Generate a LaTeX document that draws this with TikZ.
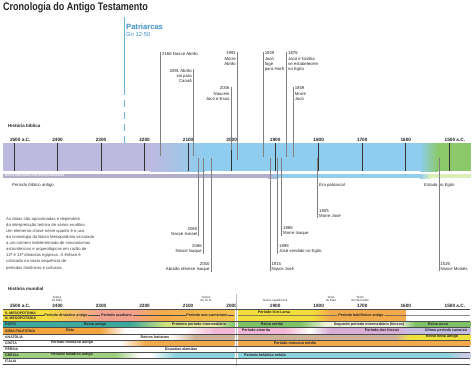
\documentclass[tikz,border=0pt]{standalone}
\usepackage{fontspec}
\setmainfont{Liberation Sans}
\usetikzlibrary{positioning}

\definecolor{patblue}{HTML}{3D8FC6}
\definecolor{patline}{HTML}{6AAFD0}
\definecolor{lav}{HTML}{BCBADF}
\definecolor{skyb}{HTML}{8ECDEE}
\definecolor{leaf}{HTML}{8CC96A}
\definecolor{stripgray}{HTML}{B4AECB}
\definecolor{stripblue}{HTML}{93CDEA}
\definecolor{striplt}{HTML}{DCEEB8}
\definecolor{ylw}{HTML}{F4DE3E}
\definecolor{salm}{HTML}{F2A08E}
\definecolor{orng}{HTML}{F2AA4A}
\definecolor{ylor}{HTML}{F5C24C}
\definecolor{teal}{HTML}{3DA89C}
\definecolor{ygrn}{HTML}{CFE27C}
\definecolor{pale}{HTML}{EAEFA8}
\definecolor{grn}{HTML}{7DC267}
\definecolor{palew}{HTML}{EEF2D8}
\definecolor{org2}{HTML}{F2A33E}
\definecolor{pink}{HTML}{F3B8D6}
\definecolor{lavp}{HTML}{D8AED6}
\definecolor{lavb}{HTML}{C6BFE3}
\definecolor{brwn}{HTML}{CDB29A}
\definecolor{hyel}{HTML}{F0E23E}
\definecolor{crorg}{HTML}{F2AB4C}
\definecolor{grgr}{HTML}{9DD07E}
\definecolor{cyan}{HTML}{8BD3DC}
\definecolor{lgray}{HTML}{C8CCE6}

% posicao de um ano na escala
\newcommand\yx[1]{14+(2500-#1)*0.4353}

\tikzset{
  title/.style={font=\bfseries\fontsize{11}{12}\selectfont, inner sep=0pt, anchor=north west, text=black!85},
  evline/.style={black!50, line width=0.45pt},
  tick/.style={black!80, line width=0.8pt},
  sep/.style={black!70, line width=0.5pt},
  evlab/.style={font=\fontsize{4.3}{5.2}\selectfont, inner sep=0pt, text=black!85},
  yearlab/.style={font=\bfseries\fontsize{4.7}{5}\selectfont, inner sep=0pt, anchor=base, text=black!85},
  seclab/.style={font=\bfseries\fontsize{4.5}{5}\selectfont, inner sep=0pt, anchor=base west, text=black!85},
  eralab/.style={font=\itshape\fontsize{4.3}{5}\selectfont, inner sep=0pt, anchor=base west, text=black!85},
  rowlab/.style={font=\bfseries\fontsize{3.5}{4}\selectfont, inner sep=0pt, anchor=west, text=black!85},
  perlab/.style={font=\bfseries\fontsize{3.7}{4}\selectfont, inner sep=0.6pt, text=black!85},
  toplab/.style={font=\fontsize{3}{3.4}\selectfont, inner sep=0pt, align=center, anchor=south, text=black!80},
  note/.style={font=\fontsize{4.2}{6.1}\selectfont, inner sep=0pt, align=left, anchor=north west, text=black!75},
}

\begin{document}
\begin{tikzpicture}[x=1pt,y=-1pt]
\useasboundingbox (0,0) rectangle (474,369);
\fill[white] (0,0) rectangle (474,369);

\node[title] (tit) at (3,2.8) {\scalebox{0.82}[1]{Cronologia do Antigo Testamento}};

% Patriarcas
\coordinate (pt) at (124,17);
\coordinate (pm) at (124,88);
\coordinate (pb) at (124,166);
\draw[patline, line width=0.9pt] (pt) -- (pm);
\draw[patline, line width=0.9pt, dash pattern=on 7pt off 5pt] (pm) -- (pb);
\node[font=\bfseries\fontsize{7.6}{8}\selectfont, text=patblue, inner sep=0pt, anchor=north west] (patr) at (126,23.5) {Patriarcas};
\node[font=\fontsize{5.8}{6}\selectfont, text=patblue, inner sep=0pt, anchor=north west] (gn) at (126,32.3) {Gn 12-50};

% historia biblica
\node[seclab] (hb) at (8,127.5) {História bíblica};

\fill[lav] (3,143) rectangle (150,171);
\shade[left color=lav, right color=skyb] (149.8,143) rectangle (205,171);
\fill[skyb] (204.8,143) rectangle (420,171);
\shade[left color=skyb, right color=leaf] (419.8,143) rectangle (438,171);
\fill[leaf] (437.8,143) rectangle (471,171);

\fill[stripgray] (3,174) rectangle (268,178);
\shade[left color=stripgray, right color=stripblue] (267.8,174) rectangle (278,178);
\fill[stripblue] (277.8,174) rectangle (420,178);
\shade[left color=stripblue, right color=striplt] (419.8,174) rectangle (430,178);
\fill[striplt] (429.8,174) rectangle (471,178);
\node[font=\bfseries\fontsize{2.8}{3}\selectfont, text=white, inner sep=0pt, anchor=west] (datas) at (5,176) {DATAS ADOTADAS POR MUITOS ERUDITOS};

\foreach \y in {2500,2400,...,1500}
  \draw[tick] ({\yx{\y}},143) -- ({\yx{\y}},171);
\foreach \y in {2400,2300,...,1600}
  \node[yearlab] (m\y) at ({\yx{\y}},141.8) {\y};
\node[yearlab, anchor=base west] (m2500) at (9.8,141.8) {2500 a.C.};
\node[yearlab, anchor=base west] (m1500) at (444.5,141.8) {1500 a.C.};

\node[eralab] (era1) at (12,186.5) {Período bíblico antigo};
\node[eralab] (era2) at (319,186.5) {Era patriarcal};
\node[eralab] (era3) at (424,186.5) {Estada no Egito};

% eventos acima da barra
\foreach \n/\x/\t/\b/\txt in {2166/160.7/51.7/156/{2166 Nasce Abrão},
    1929/263.3/51.7/157/{1929\\Jacó\\foge\\para Harã},
    1876/286.7/51.7/157/{1876\\Jacó e família\\se estabelecem\\no Egito},
    1859/293.3/86.7/157/{1859\\Morre\\Jacó}}{
  \coordinate (t\n) at (\x,\t);
  \coordinate (b\n) at (\x,\b);
  \draw[evline] (t\n) -- (b\n);
  \node[evlab, align=left, anchor=north west, xshift=1.3pt] (l\n) at (t\n) {\txt};
}
\foreach \n/\x/\t/\b/\txt in {2091/193.3/69.2/156/{2091 Abrão\\vai para\\Canaã},
    2006/231/86.7/150/{2006\\Nascem\\Jacó e Esaú},
    1991/237.3/51.7/160/{1991\\Morre\\Abrão}}{
  \coordinate (t\n) at (\x,\t);
  \coordinate (b\n) at (\x,\b);
  \draw[evline] (t\n) -- (b\n);
  \node[evlab, align=right, anchor=north east, xshift=-1.3pt] (l\n) at (t\n) {\txt};
}

% eventos abaixo da barra
\foreach \n/\x/\b/\txt in {1915/270/271/{1915\\Nasce José},
    1898/277.7/254/{1898\\José vendido no Egito},
    1886/281.7/236/{1886\\Morre Isaque},
    1805/317.7/218/{1805\\Morre José},
    1526/439/271/{1526\\Nasce Moisés}}{
  \coordinate (t\n) at (\x,158);
  \coordinate (b\n) at (\x,\b);
  \draw[evline] (t\n) -- (b\n);
  \node[evlab, align=left, anchor=south west, xshift=1.3pt] (l\n) at (b\n) {\txt};
}
\foreach \n/\x/\b/\txt in {2080/198.7/236/{2080\\Nasce Ismael},
    2066/203.3/254/{2066\\Nasce Isaque},
    2050/211/272/{2050\\Abraão oferece Isaque}}{
  \coordinate (t\n) at (\x,158);
  \coordinate (b\n) at (\x,\b);
  \draw[evline] (t\n) -- (b\n);
  \node[evlab, align=right, anchor=south east, xshift=-1.3pt] (l\n) at (b\n) {\txt};
}

\node[note] (nota) at (6,217) {As datas são aproximadas e dependem\\
da interpretação teórica de vários eruditos.\\
Um elemento-chave neste quadro é o uso\\
da cronologia da Baixa Mesopotâmia vinculado\\
a um número indeterminado de sincronismos\\
astronômicos e arqueológicos em razão de\\
12ª e 13ª dinastias egípcias. A ênfase é\\
colocada na vasta sequência de\\
períodos históricos e culturais.};

% historia mundial
\node[seclab] (hm) at (8,290.5) {História mundial};

\node[toplab] (ebla) at (57,302) {Textos\\de Ebla};
\node[toplab] (ur) at (206,302) {Textos\\de Ur III};
\node[toplab] (capa) at (275,302) {Textos capadócios};
\node[toplab] (mari) at (331,302) {Texto\\de Mari};
\node[toplab] (hamu) at (360,302) {Texto\\de Hamurábi};

\foreach \y in {2400,2300,...,1600}
  \node[yearlab] (w\y) at ({\yx{\y}},307.8) {\y};
\node[yearlab, anchor=base west] (w2500) at (9.8,307.8) {2500 a.C.};
\node[yearlab, anchor=base west] (w1500) at (444.5,307.8) {1500 a.C.};

% faixas
\foreach \a/\b/\c/\d in {3/45/ylw/ylw,45/100/ylw/salm,100/130/salm/salm,130/160/salm/orng,160/234/orng/ylor,238/312/ylw/ylw,312/330/ylw/orng,330/405/orng/orng}
  \shade[left color=\c, right color=\d] (\a,309.5) rectangle (\b+0.3,321.2);
\foreach \a/\b/\c/\d in {3/130/teal/teal,130/165/teal/ygrn,165/215/ygrn/pale,215/234/pale/grn,238/300/grn/grn,300/325/grn/palew,325/400/palew/palew,400/415/palew/grn,415/470/grn/grn}
  \shade[left color=\c, right color=\d] (\a,321.8) rectangle (\b+0.3,327.2);
\foreach \a/\b/\c/\d in {3/100/org2/org2,100/125/org2/white,185/215/white/pink,215/234/pink/pink,238/285/pink/pink,285/310/pink/white,310/330/white/lavp,330/398/lavp/lavp,398/410/lavp/lavb,410/470/lavb/lavb}
  \shade[left color=\c, right color=\d] (\a,327.8) rectangle (\b+0.3,333.5);
\foreach \a/\b/\c/\d in {170/195/white/brwn,195/234/brwn/brwn,238/395/brwn/brwn,395/410/brwn/hyel,410/470/hyel/hyel}
  \shade[left color=\c, right color=\d] (\a,334.1) rectangle (\b+0.3,339.7);
\foreach \a/\b/\c/\d in {120/145/white/crorg,145/234/crorg/crorg,238/470/crorg/crorg}
  \shade[left color=\c, right color=\d] (\a,340.3) rectangle (\b+0.3,345.7);
\foreach \a/\b/\c/\d in {3/115/grgr/grgr,115/140/grgr/white,150/175/white/cyan,175/234/cyan/cyan,238/448/cyan/cyan,448/462/cyan/lgray,462/470/lgray/lgray}
  \shade[left color=\c, right color=\d] (\a,352.3) rectangle (\b+0.3,357.7);

\draw[black!25, line width=0.4pt] (236,294) -- (236,366);
\foreach \y in {309.3,321.5,327.5,333.8,340,346,352,358,364}
  \draw[sep] (3,\y) -- (470,\y);

% regioes
\foreach \n/\y/\txt in {s/312.5/S. MESOPOTÂMIA, n/318.4/N. MESOPOTÂMIA, eg/324.5/EGITO,
    sp/330.6/SÍRIA-PALESTINA, an/336.9/ANATÓLIA, cr/343/CRETA, pe/349/PÉRSIA,
    gr/355/GRÉCIA, it/361/ITÁLIA}
  \node[rowlab] (r\n) at (5,\y) {\txt};

% periodos
\node[perlab] (din) at (66,315.5) {Período dinástico antigo};
\node[perlab] (acad) at (116.5,315.5) {Período acadiano};
\node[perlab] (neos) at (207,315.5) {Período neo-sumeriano};
\node[perlab] (isin) at (274,312.6) {Período Isin-Larsa};
\node[perlab] (babi) at (361,315.8) {Período babilônico antigo};
\coordinate (snL) at (3,315.5);
\coordinate (snM1) at (234,315.5);
\coordinate (snM2) at (238,315.5);
\coordinate (snR) at (470,315.5);
\draw[sep] (snL) -- (din);
\draw[sep] (din) -- (acad);
\draw[sep] (acad) -- (neos);
\draw[sep] (neos) -- (snM1);
\draw[sep] (snM2) -- (babi);
\draw[sep] (babi) -- (snR);

\node[perlab] (eg1) at (95,324.5) {Reino antigo};
\node[perlab] (eg2) at (199,324.5) {Primeiro período intermediário};
\node[perlab] (eg3) at (272,324.5) {Reino médio};
\node[perlab] (eg4) at (369,324.5) {Segundo período intermediário (hicsos)};
\node[perlab] (eg5) at (438,324.5) {Reino novo};

\node[perlab] (sp1) at (70,330.6) {Ebla};
\node[perlab] (sp2) at (256,330.6) {Período amorita};
\node[perlab] (sp3) at (382,330.6) {Período dos hicsos};
\node[perlab] (sp4) at (446,330.6) {Último período cananeu};

\node[perlab] (an1) at (155,336.9) {Reinos hatianos};
\node[perlab] (an2) at (442,336.9) {Reino hitita antigo};

\node[perlab] (cr1) at (72,343) {Período minoano antigo};
\node[perlab] (cr2) at (295,343) {Período minoano médio};

\node[perlab] (pe1) at (181,349) {Dinastias elamitas};

\node[perlab] (gr1) at (72,355) {Período heládico antigo};
\node[perlab] (gr2) at (265,355) {Período heládico médio};
\end{tikzpicture}
\end{document}
